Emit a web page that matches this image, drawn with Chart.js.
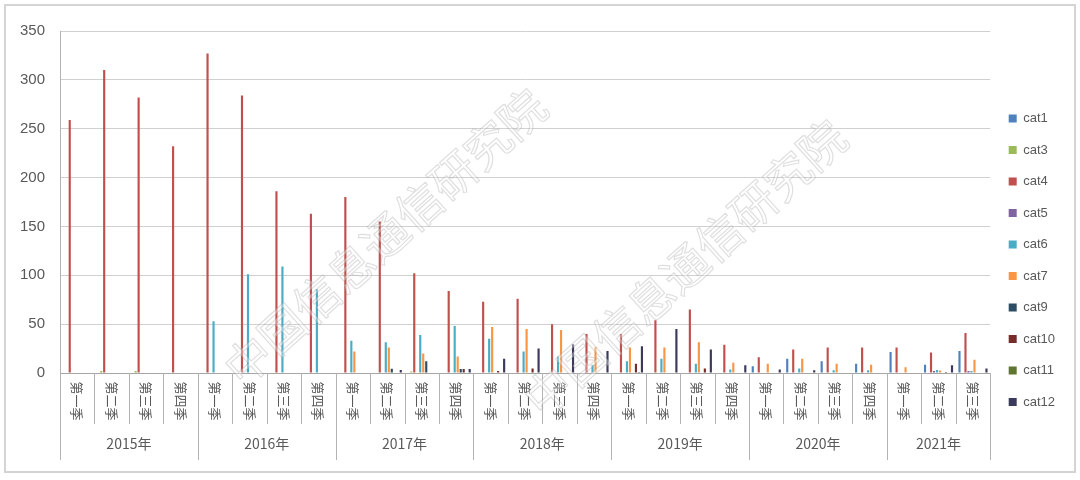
<!DOCTYPE html>
<html>
<head>
<meta charset="utf-8">
<script src="https://cdn.jsdelivr.net/npm/chart.js@4"></script>
<style>
  html, body { margin: 0; padding: 0; background: #fff; }
</style>
</head>
<body>
<canvas id="myBarChart" width="1080" height="480"></canvas>
<script>
// Categorías: trimestres 2015 T1 .. 2021 T3
var quarterLabels = [
  '第一季', '第二季', '第三季', '第四季',
  '第一季', '第二季', '第三季', '第四季',
  '第一季', '第二季', '第三季', '第四季',
  '第一季', '第二季', '第三季', '第四季',
  '第一季', '第二季', '第三季', '第四季',
  '第一季', '第二季', '第三季', '第四季',
  '第一季', '第二季', '第三季'
];
var yearLabels = ['2015年', '2016年', '2017年', '2018年', '2019年', '2020年', '2021年'];
var yearSpans = [4, 4, 4, 4, 4, 4, 3];

// Valores por serie
var cat1  = [0, 0, 0, 0,  0, 0, 0, 0,  0, 0, 0, 0,  0, 0, 0, 0,  0, 0, 0, 0,  7, 14.5, 12, 9.5,  21.5, 8.5, 22.5];
var cat3  = [0, 2, 2, 0,  0, 0, 0, 0,  0, 0, 1.5, 0,  0, 0, 0, 0,  0, 0, 0, 0,  0, 0, 0, 0,  0, 0, 0];
var cat4  = [259, 310, 282, 232,  327, 284, 186, 163,  180, 155, 102, 84,  73, 76, 50, 40,  40, 54, 65, 29,  16, 24, 26, 26,  26, 21, 41];
var cat5  = [0, 0, 0, 0,  0, 0, 0, 0,  0, 0, 0, 0,  0, 0, 0, 0,  0, 0, 0, 0,  0, 0, 0, 0,  0, 2, 2];
var cat6  = [0, 0, 0, 0,  53, 101, 109, 86,  33, 31.5, 39, 48,  35, 22, 17, 8.5,  12, 14.5, 9.5, 3.5,  0, 4.5, 2.7, 2.7,  0, 3, 2];
var cat7  = [0, 0, 0, 0,  0, 0, 0, 0,  22, 26, 20, 17,  47, 45, 44, 26.5,  26, 26, 31.5, 10.5,  9.5, 14.5, 9.5, 8.5,  6, 2.5, 13.5];
var cat9  = [0, 0, 0, 0,  0, 0, 0, 0,  0, 4.4, 12, 4,  0, 0, 0, 0,  0, 0, 0, 0,  0, 0, 0, 0,  0, 0, 0];
var cat10 = [0, 0, 0, 0,  0, 0, 0, 0,  0, 0, 0, 4,  2, 4.5, 0, 0,  9.5, 0, 4.5, 0,  0, 0, 0, 0,  0, 1, 0];
var cat11 = [0, 0, 0, 0,  0, 0, 0, 0,  0, 0, 0, 0,  0, 0, 0, 0,  1, 0, 0, 0,  0, 0, 0, 0,  0, 0, 0];
var cat12 = [0, 0, 0, 0,  0, 0, 0, 0,  0, 3, 0, 4,  14.5, 25, 29.5, 22.5,  27.5, 45, 24, 8,  3.5, 2.7, 0, 0,  0, 8, 4.5];

var yTicks = [0, 50, 100, 150, 200, 250, 300, 350];

var textColor = '#595959';

// Ejes de categorías en dos niveles + marca de agua
var axisLabels = {
  id: 'axisLabels',
  beforeDraw: function (chart) {
    var ctx = chart.ctx;
    ctx.save();
    ctx.fillStyle = '#fff';
    ctx.fillRect(0, 0, chart.width, chart.height);
    ctx.restore();
  },
  afterDraw: function (chart) {
    var ctx = chart.ctx;
    var area = chart.chartArea;
    var x = chart.scales.x;
    var y0 = area.bottom;
    var step = (area.right - area.left) / quarterLabels.length;
    ctx.save();
    ctx.strokeStyle = '#b3b3b3';
    ctx.lineWidth = 1;

    // separadores de trimestre
    for (var i = 0; i <= quarterLabels.length; i++) {
      var xe = Math.round(x.getPixelForValue(0) - step / 2 + i * step) + 0.5;
      ctx.beginPath();
      ctx.moveTo(xe, y0);
      ctx.lineTo(xe, y0 + 51);
      ctx.stroke();
    }
    // separadores de año
    var idx = 0;
    for (var j = 0; j <= yearSpans.length; j++) {
      var xs = Math.round(x.getPixelForValue(0) - step / 2 + idx * step) + 0.5;
      ctx.beginPath();
      ctx.moveTo(xs, y0);
      ctx.lineTo(xs, y0 + 87);
      ctx.stroke();
      if (j < yearSpans.length) idx += yearSpans[j];
    }

    // etiquetas de trimestre (giradas)
    ctx.fillStyle = textColor;
    ctx.font = '13px "Noto Sans CJK SC"';
    ctx.textAlign = 'center';
    ctx.textBaseline = 'middle';
    quarterLabels.forEach(function (lab, k) {
      var cx = x.getPixelForValue(k);
      ctx.save();
      ctx.translate(cx, y0 + 28);
      ctx.rotate(Math.PI / 2);
      ctx.fillText(lab, 0, 0);
      ctx.restore();
    });

    // etiquetas de año
    ctx.font = '14px "Noto Sans CJK SC"';
    idx = 0;
    yearLabels.forEach(function (lab, k) {
      var a = x.getPixelForValue(idx) - step / 2;
      var b = x.getPixelForValue(idx + yearSpans[k] - 1) + step / 2;
      ctx.fillText(lab, (a + b) / 2, y0 + 71);
      idx += yearSpans[k];
    });

    // marca de agua
    ctx.font = '46px "Noto Sans CJK SC"';
    ctx.lineWidth = 1.2;
    ctx.strokeStyle = 'rgba(150,150,150,0.3)';
    ctx.fillStyle = 'rgba(255,255,255,0.35)';
    [[385, 237], [685, 268]].forEach(function (p) {
      ctx.save();
      ctx.translate(p[0], p[1]);
      ctx.rotate(-42 * Math.PI / 180);
      ctx.fillText('中国信息通信研究院', 0, 0);
      ctx.strokeText('中国信息通信研究院', 0, 0);
      ctx.restore();
    });

    // marco exterior
    ctx.strokeStyle = '#d4d4d4';
    ctx.lineWidth = 2;
    ctx.strokeRect(5, 5, 1070, 467);
    ctx.restore();
  }
};

var series = [
  { label: 'cat1',  data: cat1,  color: '#4f81bd' },
  { label: 'cat3',  data: cat3,  color: '#9bbb59' },
  { label: 'cat4',  data: cat4,  color: '#c0504d' },
  { label: 'cat5',  data: cat5,  color: '#8064a2' },
  { label: 'cat6',  data: cat6,  color: '#4bacc6' },
  { label: 'cat7',  data: cat7,  color: '#f79646' },
  { label: 'cat9',  data: cat9,  color: '#2c4d63' },
  { label: 'cat10', data: cat10, color: '#772c2a' },
  { label: 'cat11', data: cat11, color: '#5f7530' },
  { label: 'cat12', data: cat12, color: '#3b3a5c' }
];

var ctx = document.getElementById('myBarChart').getContext('2d');
var myBarChart = new Chart(ctx, {
  type: 'bar',
  data: {
    labels: quarterLabels,
    datasets: series.map(function (s) {
      return {
        label: s.label,
        data: s.data,
        backgroundColor: s.color,
        borderWidth: 0,
        categoryPercentage: 0.87,
        barPercentage: 0.72
      };
    })
  },
  options: {
    responsive: false,
    animation: false,
    layout: {
      padding: { top: 31, left: 10, right: 15, bottom: 7 }
    },
    scales: {
      x: {
        ticks: { display: false },
        grid: { display: false, drawTicks: false },
        border: { display: true, color: '#a6a6a6' },
        afterFit: function (scale) { scale.height = 100; }
      },
      y: {
        min: 0,
        max: 350,
        afterBuildTicks: function (scale) {
          scale.ticks = yTicks.map(function (v) { return { value: v }; });
        },
        ticks: {
          color: textColor,
          padding: 15,
          font: { family: '"Liberation Sans", Arial, sans-serif', size: 15 }
        },
        grid: { color: '#d0d0d0', drawTicks: false },
        border: { display: true, color: '#b3b3b3' },
        afterFit: function (scale) { scale.width = 50; }
      }
    },
    plugins: {
      legend: {
        position: 'right',
        title: { display: true, text: ' ', padding: 1, font: { size: 12 } },
        labels: {
          boxWidth: 8,
          boxHeight: 8,
          padding: 18.5,
          color: textColor,
          font: { family: '"Liberation Sans", Arial, sans-serif', size: 13 }
        }
      },
      tooltip: { enabled: false }
    }
  },
  plugins: [axisLabels]
});
</script>
</body>
</html>
